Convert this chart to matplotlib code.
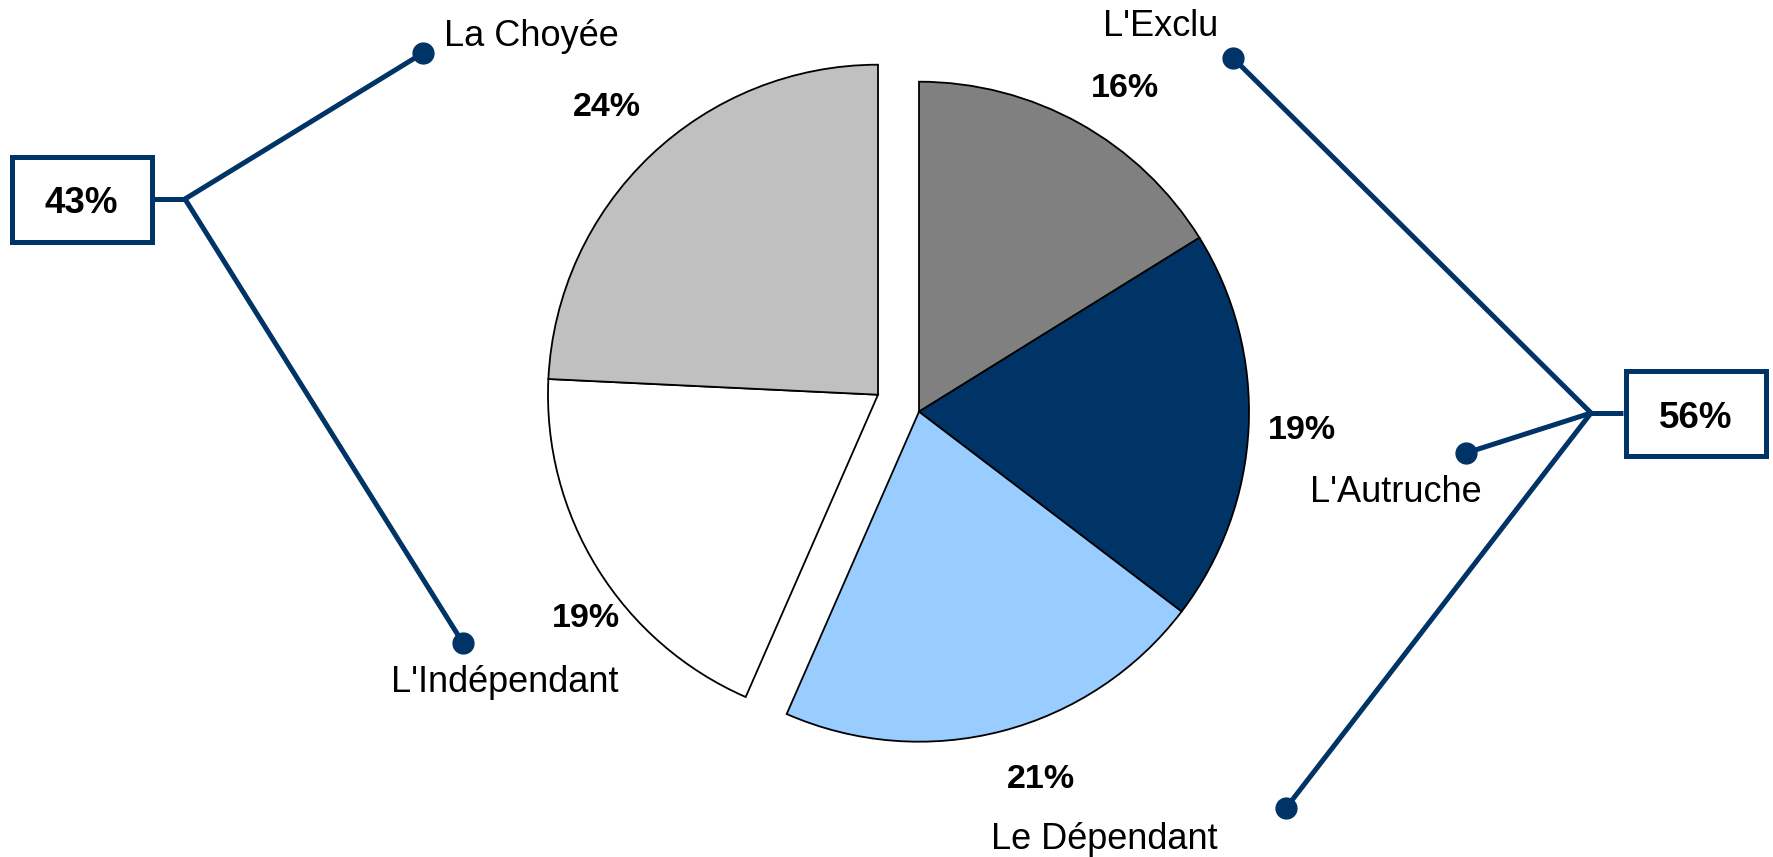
import matplotlib
matplotlib.use("Agg")
import matplotlib.pyplot as plt
from matplotlib.patches import Rectangle

# ---- data ----
categories = ["L'Exclu", "L'Autruche", "Le Dépendant", "L'Indépendant", "La Choyée"]
values = [16, 19, 21, 19, 24]
pct_labels = ["16%", "19%", "21%", "19%", "24%"]
colors = ["#808080", "#003366", "#99CCFF", "#FFFFFF", "#C0C0C0"]
exploded = [False, False, False, True, True]
group_labels = ["56%", "43%"]

NAVY = "#003366"
W, H = 1773, 857
plt.rcParams['font.family'] = ['Liberation Sans', 'DejaVu Sans']

fig = plt.figure(figsize=(W / 100, H / 100), dpi=100)
ax = fig.add_axes([0, 0, 1, 1])

def Y(y):
    return H - y

cx, cy, r = 919, Y(411.7), 330
shift = (-41, 17)

total = sum(values)
wedges, _ = ax.pie([v / total for v in values], colors=colors, startangle=90,
                   counterclock=False, normalize=False, center=(cx, cy), radius=r,
                   wedgeprops=dict(edgecolor="black", linewidth=1.3))
for w, ex in zip(wedges, exploded):
    if ex:
        w.set_center((cx + shift[0], cy + shift[1]))

ax.set_xlim(0, W)
ax.set_ylim(0, H)
ax.set_aspect('equal')
ax.axis('off')

# percent labels
pct_pos = [(1125, 97.3), (1302, 439), (1041, 788), (585.5, 626.7), (607, 116)]
for t, (x, y) in zip(pct_labels, pct_pos):
    ax.text(x, Y(y), t, fontsize=24.5, fontweight='bold', ha='center', va='baseline')

# category labels
cat_pos = [(1161, 36, 'center'), (1396, 501.7, 'center'), (1104, 849, 'center'),
           (505, 691.7, 'center'), (444, 46, 'left')]
for t, (x, y, ha) in zip(categories, cat_pos):
    ax.text(x, Y(y), t, fontsize=26, ha=ha, va='baseline')

lw = 3.6
# left bracket (43%)
jl = (185, 199)
ax.plot([154, jl[0]], [Y(199), Y(199)], color=NAVY, lw=lw, solid_capstyle='butt')
for dx, dy in [(423, 53), (463, 643)]:
    ax.plot([jl[0], dx], [Y(jl[1]), Y(dy)], color=NAVY, lw=lw, solid_capstyle='round')
    ax.plot(dx, Y(dy), 'o', color=NAVY, ms=15)
ax.add_patch(Rectangle((11.5, Y(241.5)), 140, 85, fill=True, facecolor='white',
                       edgecolor=NAVY, lw=lw))
ax.text(81.5, Y(213), group_labels[1], fontsize=26.5, fontweight='bold', ha='center', va='baseline')

# right bracket (56%)
jr = (1591, 413)
ax.plot([jr[0], 1623], [Y(413), Y(413)], color=NAVY, lw=lw, solid_capstyle='butt')
for dx, dy in [(1232.5, 57.5), (1466, 453), (1286, 808)]:
    ax.plot([jr[0], dx], [Y(jr[1]), Y(dy)], color=NAVY, lw=lw, solid_capstyle='round')
    ax.plot(dx, Y(dy), 'o', color=NAVY, ms=15)
ax.add_patch(Rectangle((1625.5, Y(455.5)), 140, 85, fill=True, facecolor='white',
                       edgecolor=NAVY, lw=lw))
ax.text(1696, Y(428), group_labels[0], fontsize=26.5, fontweight='bold', ha='center', va='baseline')

fig.savefig("out.png", dpi=100)
